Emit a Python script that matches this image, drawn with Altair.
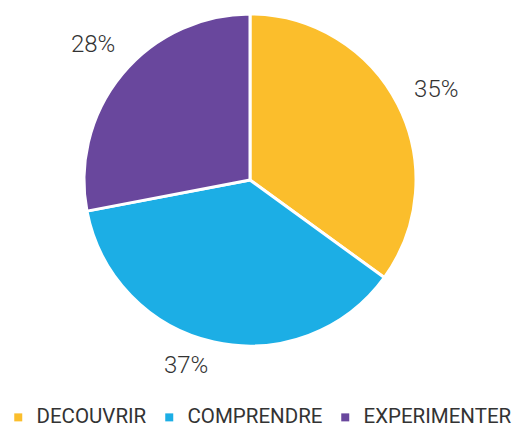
import altair as alt
import pandas as pd

categories = ["DECOUVRIR", "COMPRENDRE", "EXPERIMENTER"]
values = [35, 37, 28]
labels = ["35%", "37%", "28%"]
colors = ["#FBBE2C", "#1CAEE5", "#69479D"]

df = pd.DataFrame({"cat": categories, "val": values, "label": labels, "order": [0, 1, 2]})

base = alt.Chart(df).transform_window(
    cum="sum(val)", sort=[alt.SortField("order")]
).transform_calculate(mid="datum.cum - datum.val / 2")

pie = base.mark_arc(outerRadius=166, stroke="white", strokeWidth=3).encode(
    theta=alt.Theta("val:Q", stack=True, scale=alt.Scale(domain=[0, 100])),
    order=alt.Order("order:Q"),
    color=alt.Color(
        "cat:N",
        sort=categories,
        scale=alt.Scale(domain=categories, range=colors),
        legend=alt.Legend(
            title=None,
            orient="none",
            direction="horizontal",
            legendX=0,
            legendY=396,
            symbolType="square",
            symbolSize=64,
            symbolStrokeWidth=0,
            labelFont="Roboto",
            labelFontSize=20.5,
            labelColor="#333333",
            columnPadding=12,
            labelOffset=8,
        ),
    ),
)

text_main = base.transform_filter(alt.datum.cat != "COMPRENDRE").mark_text(
    radius=207, thetaOffset=0.02, font="Roboto", fontSize=24, fontWeight=300, color="#333333"
).encode(
    theta=alt.Theta("mid:Q", stack=None, scale=alt.Scale(domain=[0, 100])),
    text="label:N",
)

text_blue = base.transform_filter(alt.datum.cat == "COMPRENDRE").mark_text(
    radius=197, thetaOffset=0.11, font="Roboto", fontSize=24, fontWeight=300, color="#333333"
).encode(
    theta=alt.Theta("mid:Q", stack=None, scale=alt.Scale(domain=[0, 100])),
    text="label:N",
)

chart = (pie + text_main + text_blue).properties(
    width=484, height=338, padding=0
).configure_view(stroke=None)

chart.save("out.html", embed_options={"renderer": "svg", "actions": False})
